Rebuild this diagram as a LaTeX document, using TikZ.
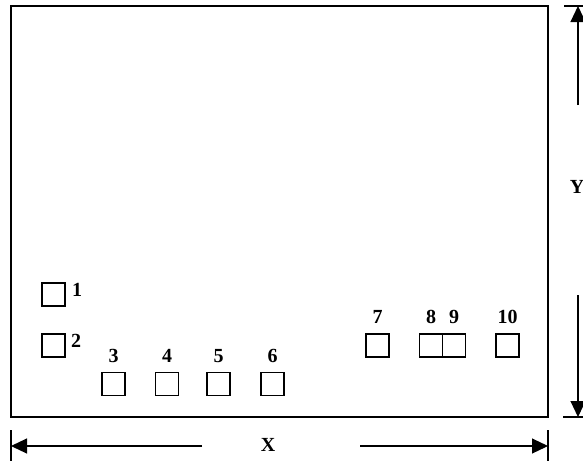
\documentclass[tikz,border=0pt]{standalone}
\usepackage{fontspec}
\setmainfont{Liberation Serif}
\usetikzlibrary{positioning, arrows.meta}

\begin{document}
\begin{tikzpicture}[
    x=1pt, y=-1pt,
    line width=1.1pt,
    node distance=9pt,
    cellnode/.style={draw,rectangle,minimum size=23pt,inner sep=0pt},
    numnode/.style={inner sep=0pt,font=\fontsize{20}{20}\selectfont\bfseries},
    dimline/.style={-{Triangle[length=16pt,width=15pt]}}
]
\useasboundingbox (0,0) rectangle (583,461);

% 区域边框
\draw (11,6) rectangle (548,417);

% 左侧两个
\node[cellnode] (c1) at (53.5,294.5) {};
\node[cellnode] (c2) at (53.5,345.5) {};
\node[numnode,right=6pt of c1.north east,anchor=north west] (n1) {1};
\node[numnode,right=5pt of c2.north east,anchor=north west] (n2) {2};

% 下排
\node[cellnode] (c3) at (113.5,384) {};
\node[cellnode] (c4) at (167,384) {};
\node[cellnode] (c5) at (218.5,384) {};
\node[cellnode] (c6) at (272.5,384) {};
\node[numnode,above=of c3] (n3) {3};
\node[numnode,above=of c4] (n4) {4};
\node[numnode,above=of c5] (n5) {5};
\node[numnode,above=of c6] (n6) {6};

% 右排
\node[cellnode] (c7) at (377.5,345.5) {};
\node[cellnode] (c8) at (431,345.5) {};
\node[cellnode] (c9) at (454,345.5) {};
\node[cellnode] (c10) at (507.5,345.5) {};
\node[numnode,above=of c7] (n7) {7};
\node[numnode,above=of c8] (n8) {8};
\node[numnode,above=of c9] (n9) {9};
\node[numnode,above=of c10] (n10) {10};

% X 尺寸
\coordinate (xl) at (11,446);
\coordinate (xr) at (548,446);
\coordinate (xla) at (202,446);
\coordinate (xra) at (360,446);
\node[numnode] (xlab) at (268,445) {X};
\draw (11,430) -- (11,461);
\draw (548,430) -- (548,461);
\draw[dimline] (xla) -- (xl);
\draw[dimline] (xra) -- (xr);

% Y 尺寸
\coordinate (yt) at (578,6);
\coordinate (yb) at (578,417);
\coordinate (yta) at (578,105);
\coordinate (yba) at (578,295);
\node[numnode] (ylab) at (577,187) {Y};
\draw (564,6) -- (583,6);
\draw (563,417) -- (583,417);
\draw[dimline] (yta) -- (yt);
\draw[dimline] (yba) -- (yb);
\end{tikzpicture}
\end{document}
